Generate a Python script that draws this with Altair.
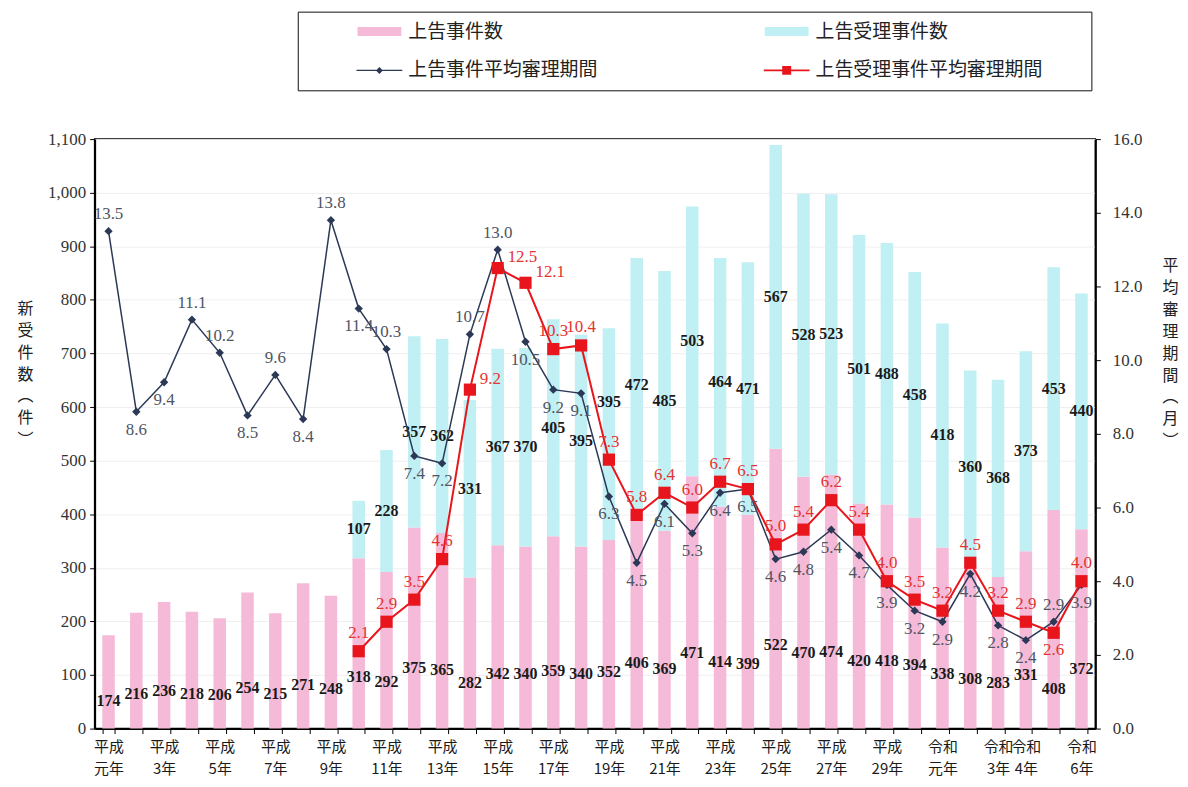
import json
import altair as alt
import pandas as pd

# ---------------- data ----------------
YEARS = [
    "平成元年", "平成2年", "平成3年", "平成4年", "平成5年", "平成6年", "平成7年", "平成8年",
    "平成9年", "平成10年", "平成11年", "平成12年", "平成13年", "平成14年", "平成15年",
    "平成16年", "平成17年", "平成18年", "平成19年", "平成20年", "平成21年", "平成22年",
    "平成23年", "平成24年", "平成25年", "平成26年", "平成27年", "平成28年", "平成29年",
    "平成30年", "令和元年", "令和2年", "令和3年", "令和4年", "令和5年", "令和6年",
]
# 上告事件数
PINK = [174, 216, 236, 218, 206, 254, 215, 271, 248, 318, 292, 375, 365, 282, 342, 340,
        359, 340, 352, 406, 369, 471, 414, 399, 522, 470, 474, 420, 418, 394, 338, 308,
        283, 331, 408, 372]
# 上告受理事件数
CYAN = [None] * 9 + [107, 228, 357, 362, 331, 367, 370, 405, 395, 395, 472, 485, 503, 464,
                     471, 567, 528, 523, 501, 488, 458, 418, 360, 368, 373, 453, 440]
# 上告事件平均審理期間
NAVY = [13.5, 8.6, 9.4, 11.1, 10.2, 8.5, 9.6, 8.4, 13.8, 11.4, 10.3, 7.4, 7.2, 10.7, 13.0,
        10.5, 9.2, 9.1, 6.3, 4.5, 6.1, 5.3, 6.4, 6.5, 4.6, 4.8, 5.4, 4.7, 3.9, 3.2, 2.9,
        4.2, 2.8, 2.4, 2.9, 3.9]
# 上告受理事件平均審理期間
RED = [None] * 9 + [2.1, 2.9, 3.5, 4.6, 9.2, 12.5, 12.1, 10.3, 10.4, 7.3, 5.8, 6.4, 6.0,
                    6.7, 6.5, 5.0, 5.4, 6.2, 5.4, 4.0, 3.5, 3.2, 4.5, 3.2, 2.9, 2.6, 4.0]

XTICKS = ["平成元年", "平成3年", "平成5年", "平成7年", "平成9年", "平成11年", "平成13年",
          "平成15年", "平成17年", "平成19年", "平成21年", "平成23年", "平成25年", "平成27年",
          "平成29年", "令和元年", "令和3年", "令和4年", "令和6年"]

SERIES = ["上告事件数", "上告受理事件数", "上告事件平均審理期間", "上告受理事件平均審理期間"]
LEFT_TITLE = ["新", "受", "件", "数", "︵", "件", "︶"]
RIGHT_TITLE = ["平", "均", "審", "理", "期", "間", "︵", "月", "︶"]

# ---------------- styles ----------------
C_PINK = "#f5bad8"
C_CYAN = "#c0eff4"
C_NAVY = "#2b3956"
C_RED = "#e8161c"
SERIF = "Liberation Serif"
JP = "Noto Sans CJK JP"
W, H = 1005, 592
LMAX, RMAX = 1100, 16

# ---------------- table ----------------
df = pd.DataFrame({"year": YEARS, "pink": PINK, "cyan": CYAN, "navy": NAVY, "red": RED})
df["cyan"] = pd.to_numeric(df["cyan"])
df["red"] = pd.to_numeric(df["red"])
df["total"] = df["pink"] + df["cyan"]

# label placement rules (derived from the values)
n = len(NAVY)
navy_up, red_pos = [], []
for i in range(n):
    v, r = NAVY[i], RED[i]
    nb = [NAVY[j] for j in (i - 1, i + 1) if 0 <= j < n]
    avg = sum(nb) / len(nb)
    if r is None:
        navy_up.append(v > avg)
        red_pos.append("none")
    else:
        navy_up.append(v > r and (v > avg or v - r <= 1))
        d = v - r
        pos = "below" if 0 < d < 0.4 else ("right" if 0 < d <= 2 else "above")
        if (pos == "above" and red_pos and red_pos[-1] == "right"
                and abs(r - RED[i - 1]) < 1.5):
            pos = "right"
        red_pos.append(pos)
df["navy_up"] = navy_up
df["red_pos"] = red_pos

PXL = H / LMAX
PXR = H / RMAX


def obstacles(i):
    obs = [NAVY[i] * PXR, NAVY[i] * PXR + (17 if navy_up[i] else -18)]
    if RED[i] is not None:
        obs.append(RED[i] * PXR)
        if red_pos[i] == "above":
            obs.append(RED[i] * PXR + 18)
        elif red_pos[i] == "below":
            obs.append(RED[i] * PXR - 17)
    return obs


def place(i, bottom, size, factors):
    obs = obstacles(i)
    for f in factors:
        c = bottom + size * f
        if all(abs(c * PXL - o) >= 16 for o in obs):
            return c
    return bottom + size * factors[0]


df["pink_ly"] = [place(i, 0, PINK[i], [0.3, 0.18, 0.42, 0.1, 0.55]) for i in range(n)]
df["cyan_ly"] = [place(i, PINK[i], CYAN[i], [0.5, 0.65, 0.35, 0.8, 0.2, 0.9])
                 if CYAN[i] is not None else None for i in range(n)]

# ---------------- axes ----------------
label_expr = ("indexof(%s, datum.value) >= 0 ? [slice(datum.value, 0, 2), slice(datum.value, 2)] : ''"
              % json.dumps(XTICKS, ensure_ascii=False))
x_axis = alt.Axis(labelExpr=label_expr, labelAngle=0, labelFont=JP, labelFontSize=15,
                  labelColor="#1a1a1a", labelLineHeight=22, labelPadding=6, labelOverlap=False,
                  tickBand="extent", tickSize=5, tickColor="black", domainColor="black",
                  domainWidth=2, title=None)
X = alt.X("year:N", sort=YEARS,
          scale=alt.Scale(domain=YEARS, paddingInner=0.55, paddingOuter=0.275),
          axis=x_axis, title=None)

left_axis = alt.Axis(values=list(range(0, 1101, 100)), labelExpr="format(datum.value, ',')",
                     labelFont=SERIF,
                     labelFontSize=17, labelColor="#333333", labelPadding=4, tickSize=5,
                     tickColor="black", domainColor="black", domainWidth=2, grid=True,
                     gridColor="#efefef", titleAngle=0, titleX=-70, titleY=162,
                     titleAlign="center", titleBaseline="top", titleLineHeight=22,
                     titleFont=JP, titleFontSize=16, titleFontWeight="normal",
                     titleColor="#222222")
right_axis = alt.Axis(orient="right", values=list(range(0, 17, 2)),
                      labelExpr="format(datum.value, '.1f')",
                      labelFont=SERIF, labelFontSize=17, labelColor="#333333",
                      labelPadding=12, tickSize=5, tickColor="black", domainColor="black",
                      domainWidth=2, grid=False, titleAngle=0, titleX=75, titleY=119,
                      titleAlign="center", titleBaseline="top", titleLineHeight=22,
                      titleFont=JP, titleFontSize=16, titleFontWeight="normal",
                      titleColor="#222222")


def yl(field):
    return alt.Y(f"{field}:Q", scale=alt.Scale(domain=[0, LMAX], nice=False),
                 axis=left_axis, title=LEFT_TITLE)


def yr(field):
    return alt.Y(f"{field}:Q", scale=alt.Scale(domain=[0, RMAX], nice=False),
                 axis=right_axis, title=RIGHT_TITLE)


base = alt.Chart(df)

pink_bar = base.mark_bar(color=C_PINK).encode(x=X, y=yl("pink"))
cyan_bar = base.mark_bar(color=C_CYAN).encode(x=X, y=yl("total"), y2=alt.Y2("pink:Q"))
pink_txt = base.mark_text(font=SERIF, fontSize=16, fontWeight="bold", color="#1a1a1a").encode(
    x=X, y=yl("pink_ly"), text=alt.Text("pink:Q", format="d"))
cyan_txt = base.mark_text(font=SERIF, fontSize=16, fontWeight="bold", color="#1a1a1a").encode(
    x=X, y=yl("cyan_ly"), text=alt.Text("cyan:Q", format="d"))

left = alt.layer(pink_bar, cyan_bar, pink_txt, cyan_txt)

navy_line = base.mark_line(color=C_NAVY, strokeWidth=1.5).encode(x=X, y=yr("navy"))
red_line = base.mark_line(color=C_RED, strokeWidth=2).encode(x=X, y=yr("red"))
navy_pts = base.mark_point(shape="diamond", filled=True, size=70, color=C_NAVY, opacity=1).encode(
    x=X, y=yr("navy"))
red_pts = base.mark_point(shape="square", filled=True, size=150, color=C_RED, opacity=1).encode(
    x=X, y=yr("red"))

txt_kw = dict(font=SERIF, fontSize=17)
navy_up_txt = base.transform_filter("datum.navy_up").mark_text(
    color="#4f5563", dy=-17, **txt_kw).encode(x=X, y=yr("navy"), text=alt.Text("navy:Q", format=".1f"))
navy_dn_txt = base.transform_filter("!datum.navy_up").mark_text(
    color="#4f5563", dy=18, **txt_kw).encode(x=X, y=yr("navy"), text=alt.Text("navy:Q", format=".1f"))
red_up_txt = base.transform_filter("datum.red_pos == 'above'").mark_text(
    color="#e5332f", dy=-18, **txt_kw).encode(x=X, y=yr("red"), text=alt.Text("red:Q", format=".1f"))
red_dn_txt = base.transform_filter("datum.red_pos == 'below'").mark_text(
    color="#e5332f", dy=17, **txt_kw).encode(x=X, y=yr("red"), text=alt.Text("red:Q", format=".1f"))
red_rt_txt = base.transform_filter("datum.red_pos == 'right'").mark_text(
    color="#e5332f", align="left", dx=10, dy=-11, **txt_kw).encode(
    x=X, y=yr("red"), text=alt.Text("red:Q", format=".1f"))

# legend (built from the scales; the layer itself draws nothing)
LEG_PATHS = [
    "M-2.2,-0.45H2.2V0.45H-2.2Z",
    "M-2.2,-0.45H2.2V0.45H-2.2Z",
    "M-2.3,-0.07H2.3V0.07H-2.3Z M0,-0.35L0.35,0L0,0.35L-0.35,0Z",
    "M-2.3,-0.08H2.3V0.08H-2.3Z M-0.45,-0.45H0.45V0.45H-0.45Z",
]
legend = alt.Legend(title=None, orient="none", legendX=204, legendY=-128, columns=2,
                    direction="horizontal",
                    labelExpr="datum.label + '\u3000\u3000\u200b'",
                    padding=10, strokeColor="#111111", symbolSize=400, symbolStrokeWidth=0,
                    symbolOffset=62, labelOffset=19, columnPadding=79, rowPadding=19,
                    labelFont=JP, labelFontSize=19, labelColor="#222222", labelLimit=600)
ghost_df = pd.DataFrame({"series": SERIES, "year": [YEARS[0]] * 4, "navy": [0.0] * 4})
ghost = alt.Chart(ghost_df).transform_filter("false").mark_point(filled=True, opacity=1).encode(
    x=X, y=yr("navy"),
    color=alt.Color("series:N", scale=alt.Scale(domain=SERIES, range=[C_PINK, C_CYAN, C_NAVY, C_RED]),
                    legend=legend, title=None),
    shape=alt.Shape("series:N", scale=alt.Scale(domain=SERIES, range=LEG_PATHS),
                    legend=legend, title=None),
)

right = alt.layer(navy_line, red_line, navy_pts, red_pts, navy_up_txt, navy_dn_txt,
                  red_up_txt, red_dn_txt, red_rt_txt, ghost)

chart = alt.layer(left, right).resolve_scale(y="independent").properties(
    width=W, height=H,
    autosize=alt.AutoSizeParams(type="none"),
    padding={"left": 87, "top": 130, "right": 85, "bottom": 55},
    background="white",
).configure_view(stroke="black", strokeWidth=1.5)

chart.save("out.html", embed_options={"renderer": "svg", "actions": False})
